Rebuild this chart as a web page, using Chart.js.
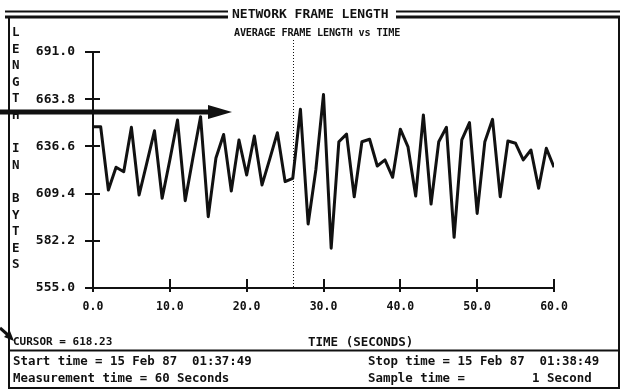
<!DOCTYPE html>
<html>
<head>
<meta charset="utf-8">
<script src="https://cdn.jsdelivr.net/npm/chart.js@4.4.1/dist/chart.umd.min.js"></script>
<style>
    body { margin: 0; background: #fff; }
    #wrap { position: relative; width: 623px; height: 390px; overflow: hidden; background: #fff; }
    #plot { position: absolute; left: 0; top: 0; }
    .txt {
        position: absolute;
        font-family: "DejaVu Sans Mono", "Liberation Mono", monospace;
        font-weight: bold;
        color: #111;
        white-space: pre;
        line-height: 14px;
    }
    .vert { font-size: 12.5px; left: 12px; }
</style>
</head>
<body>
<div id="wrap">
    <canvas id="plot" width="623" height="390"></canvas>
    <div class="txt" style="left:232px; top:7px; font-size:13px; background:#fff;">NETWORK FRAME LENGTH</div>
    <div class="txt" style="left:234px; top:26px; font-size:10.2px; letter-spacing:-0.2px;">AVERAGE FRAME LENGTH vs TIME</div>
    <div id="vlabel"></div>
    <div class="txt" style="left:13px; top:335px; font-size:11px;">CURSOR = 618.23</div>
    <div class="txt" style="left:308px; top:335px; font-size:12.5px;">TIME (SECONDS)</div>
    <div class="txt" style="left:13px; top:354px; font-size:12.4px;">Start time = 15 Feb 87  01:37:49</div>
    <div class="txt" style="left:13px; top:371px; font-size:12.4px;">Measurement time = 60 Seconds</div>
    <div class="txt" style="left:368px; top:354px; font-size:12.4px;">Stop time = 15 Feb 87  01:38:49</div>
    <div class="txt" style="left:368px; top:371px; font-size:12.4px;">Sample time =</div>
    <div class="txt" style="left:532px; top:371px; font-size:12.4px;">1 Second</div>
</div>
<script>
// Data (1 second samples)
const seconds = [0, 1, 2, 3, 4, 5, 6, 7, 8, 9, 10, 11, 12, 13, 14, 15, 16, 17, 18, 19, 20,
    21, 22, 23, 24, 25, 26, 27, 28, 29, 30, 31, 32, 33, 34, 35, 36, 37, 38, 39, 40,
    41, 42, 43, 44, 45, 46, 47, 48, 49, 50, 51, 52, 53, 54, 55, 56, 57, 58, 59, 60];
const frameLength = [647.9, 647.9, 611.5, 624.6, 622.0, 647.6, 608.6, 627.0, 645.6, 606.7, 628.8,
    651.8, 605.3, 629.9, 653.7, 596.1, 629.9, 643.5, 610.9, 640.3, 620.1,
    642.6, 614.4, 629.3, 644.5, 616.3, 618.2, 658.0, 591.9, 623.0, 666.5,
    577.9, 639.3, 643.7, 607.6, 639.3, 640.7, 625.3, 628.8, 618.8, 646.5,
    636.3, 608.0, 654.7, 603.4, 639.3, 647.6, 584.2, 640.3, 650.3, 598.0,
    639.3, 652.2, 607.6, 639.7, 638.4, 628.8, 634.5, 612.5, 635.5, 624.6];
const yTicks = [555.0, 582.2, 609.4, 636.6, 663.8, 691.0];
const xTicks = [0, 10, 20, 30, 40, 50, 60];
const cursorTime = 26;
const yAxisLetters = ['L', 'E', 'N', 'G', 'T', 'H', '', 'I', 'N', '', 'B', 'Y', 'T', 'E', 'S'];

const ink = '#111';
const monoFont = '"DejaVu Sans Mono", "Liberation Mono", monospace';

// stacked y axis label
const vlabel = document.getElementById('vlabel');
yAxisLetters.forEach(function(ch, i) {
    const d = document.createElement('div');
    d.className = 'txt vert';
    d.style.top = (25 + i * 16.6) + 'px';
    d.textContent = ch;
    vlabel.appendChild(d);
});

// frame, cross ticks, cursor line and the hand drawn arrows
const screenDecor = {
    id: 'screenDecor',
    afterDraw(chart) {
        const ctx = chart.ctx;
        const xs = chart.scales.x, ys = chart.scales.y;
        const area = chart.chartArea;
        ctx.save();
        ctx.strokeStyle = ink;
        ctx.fillStyle = ink;

        // title double rule
        ctx.lineWidth = 2;
        ctx.beginPath();
        ctx.moveTo(5, 11.5); ctx.lineTo(228, 11.5);
        ctx.moveTo(396, 11.5); ctx.lineTo(620, 11.5);
        ctx.stroke();
        ctx.lineWidth = 3;
        ctx.beginPath();
        ctx.moveTo(5, 17); ctx.lineTo(228, 17);
        ctx.moveTo(396, 17); ctx.lineTo(620, 17);
        ctx.stroke();

        // box
        ctx.lineWidth = 2;
        ctx.beginPath();
        ctx.moveTo(9, 17); ctx.lineTo(9, 389);
        ctx.moveTo(619, 17); ctx.lineTo(619, 389);
        ctx.moveTo(9, 350.5); ctx.lineTo(619, 350.5);
        ctx.moveTo(9, 388); ctx.lineTo(619, 388);
        ctx.stroke();

        // cross ticks on both axes
        ctx.lineWidth = 2;
        ctx.beginPath();
        yTicks.forEach(function(v) {
            const py = Math.round(ys.getPixelForValue(v));
            ctx.moveTo(area.left - 8, py); ctx.lineTo(area.left + 7, py);
        });
        xTicks.forEach(function(v) {
            const px = Math.round(xs.getPixelForValue(v));
            ctx.moveTo(px, area.bottom - 9); ctx.lineTo(px, area.bottom + 4);
        });
        ctx.stroke();

        // dotted cursor line
        const cx = Math.round(xs.getPixelForValue(cursorTime)) + 0.5;
        ctx.lineWidth = 1;
        ctx.setLineDash([1, 2]);
        ctx.beginPath();
        ctx.moveTo(cx, 40); ctx.lineTo(cx, area.bottom);
        ctx.stroke();
        ctx.setLineDash([]);

        // big arrow across the y axis
        const ay = 112;
        ctx.lineWidth = 5;
        ctx.beginPath();
        ctx.moveTo(0, ay); ctx.lineTo(212, ay);
        ctx.stroke();
        ctx.beginPath();
        ctx.moveTo(232, ay); ctx.lineTo(208, ay - 7); ctx.lineTo(208, ay + 7);
        ctx.closePath();
        ctx.fill();

        // small arrow pointing at the cursor readout
        ctx.lineWidth = 3;
        ctx.beginPath();
        ctx.moveTo(0, 328); ctx.lineTo(8, 335);
        ctx.stroke();
        ctx.beginPath();
        ctx.moveTo(14, 341); ctx.lineTo(4, 337); ctx.lineTo(10, 331);
        ctx.closePath();
        ctx.fill();
        ctx.restore();
    }
};

const chart = new Chart(document.getElementById('plot').getContext('2d'), {
    type: 'line',
    data: {
        datasets: [{
            label: 'Average frame length',
            data: seconds.map(function(t, i) { return { x: t, y: frameLength[i] }; }),
            borderColor: ink,
            borderWidth: 3,
            borderJoinStyle: 'round',
            pointRadius: 0,
            tension: 0,
            fill: false
        }]
    },
    options: {
        responsive: false,
        animation: false,
        devicePixelRatio: 1,
        layout: { padding: { top: 52, right: 69, bottom: 0, left: 0 } },
        plugins: {
            legend: { display: false },
            title: { display: false },
            tooltip: { enabled: false }
        },
        scales: {
            x: {
                type: 'linear',
                min: 0,
                max: 60,
                afterFit: function(scale) { scale.height = 102; },
                afterBuildTicks: function(scale) {
                    scale.ticks = xTicks.map(function(v) { return { value: v }; });
                },
                ticks: {
                    padding: 4,
                    maxRotation: 0,
                    color: ink,
                    font: { family: monoFont, size: 11.5, weight: 'bold' },
                    callback: function(v) { return Number(v).toFixed(1); }
                },
                grid: { display: false },
                border: { display: true, color: ink, width: 2 }
            },
            y: {
                min: 555,
                max: 691,
                afterFit: function(scale) { scale.width = 93; },
                afterBuildTicks: function(scale) {
                    scale.ticks = yTicks.map(function(v) { return { value: v }; });
                },
                ticks: {
                    padding: 10,
                    color: ink,
                    font: { family: monoFont, size: 13, weight: 'bold' },
                    callback: function(v) { return Number(v).toFixed(1); }
                },
                grid: { display: false },
                border: { display: true, color: ink, width: 2 }
            }
        }
    },
    plugins: [screenDecor]
});
</script>
</body>
</html>
